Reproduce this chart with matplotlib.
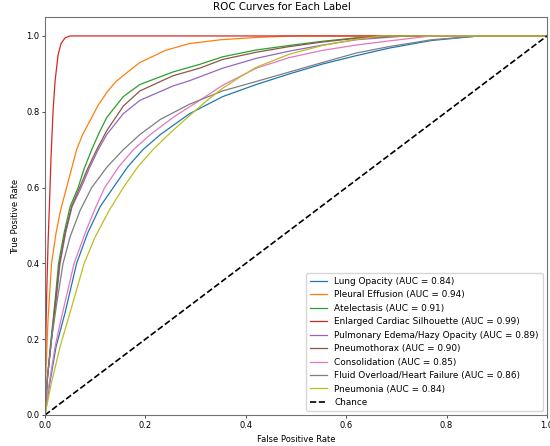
import matplotlib
matplotlib.use("Agg")
import matplotlib.pyplot as plt

# ROC points (FPR, TPR)
labels = ['Lung Opacity', 'Pleural Effusion', 'Atelectasis', 'Enlarged Cardiac Silhouette',
          'Pulmonary Edema/Hazy Opacity', 'Pneumothorax', 'Consolidation',
          'Fluid Overload/Heart Failure', 'Pneumonia']
aucs = [0.84, 0.94, 0.91, 0.99, 0.89, 0.90, 0.85, 0.86, 0.84]

fpr_lung = [0, 0.009, 0.022, 0.04, 0.063, 0.085, 0.11, 0.136, 0.165, 0.195, 0.23, 0.288,
            0.354, 0.421, 0.487, 0.553, 0.62, 0.686, 0.77, 0.865, 1.0]
tpr_lung = [0, 0.08, 0.18, 0.27, 0.4, 0.48, 0.55, 0.6, 0.655, 0.7, 0.74, 0.795,
            0.84, 0.872, 0.9, 0.926, 0.948, 0.968, 0.988, 1.0, 1.0]

fpr_pleural = [0, 0.002, 0.006, 0.013, 0.022, 0.031, 0.043, 0.063, 0.075, 0.089, 0.105, 0.123,
               0.14, 0.16, 0.189, 0.24, 0.288, 0.35, 0.42, 0.49, 1.0]
tpr_pleural = [0, 0.12, 0.25, 0.4, 0.48, 0.54, 0.6, 0.7, 0.74, 0.775, 0.815, 0.851,
               0.878, 0.9, 0.93, 0.962, 0.98, 0.99, 0.996, 1.0, 1.0]

fpr_atel = [0, 0.005, 0.012, 0.02, 0.027, 0.038, 0.05, 0.066, 0.078, 0.093, 0.108, 0.123,
            0.156, 0.189, 0.255, 0.308, 0.354, 0.421, 0.487, 0.553, 0.62, 0.7, 1.0]
tpr_atel = [0, 0.1, 0.2, 0.3, 0.4, 0.48, 0.55, 0.6, 0.65, 0.7, 0.745, 0.785,
            0.84, 0.872, 0.905, 0.925, 0.945, 0.963, 0.975, 0.986, 0.995, 1.0, 1.0]

fpr_cardiac = [0, 0.001, 0.003, 0.006, 0.009, 0.012, 0.016, 0.02, 0.026, 0.032, 0.04, 0.05, 0.06, 1.0]
tpr_cardiac = [0, 0.15, 0.3, 0.45, 0.56, 0.68, 0.8, 0.88, 0.95, 0.98, 0.995, 1.0, 1.0, 1.0]

fpr_edema = [0, 0.005, 0.013, 0.022, 0.03, 0.041, 0.054, 0.072, 0.088, 0.106, 0.123, 0.156,
             0.189, 0.255, 0.288, 0.354, 0.421, 0.487, 0.553, 0.62, 0.72, 1.0]
tpr_edema = [0, 0.1, 0.2, 0.3, 0.4, 0.48, 0.55, 0.6, 0.65, 0.7, 0.74, 0.795,
             0.83, 0.868, 0.882, 0.915, 0.941, 0.96, 0.976, 0.99, 1.0, 1.0]

fpr_ptx = [0, 0.005, 0.013, 0.021, 0.029, 0.04, 0.053, 0.069, 0.085, 0.103, 0.123, 0.156,
           0.189, 0.255, 0.308, 0.354, 0.421, 0.487, 0.553, 0.62, 0.7, 1.0]
tpr_ptx = [0, 0.1, 0.2, 0.3, 0.4, 0.48, 0.55, 0.6, 0.65, 0.7, 0.75, 0.815,
           0.855, 0.895, 0.915, 0.938, 0.957, 0.972, 0.984, 0.994, 1.0, 1.0]

fpr_consol = [0, 0.008, 0.02, 0.035, 0.058, 0.08, 0.1, 0.119, 0.147, 0.176, 0.21, 0.255,
              0.308, 0.354, 0.421, 0.487, 0.553, 0.62, 0.686, 0.77, 1.0]
tpr_consol = [0, 0.08, 0.18, 0.27, 0.4, 0.48, 0.545, 0.6, 0.655, 0.7, 0.74, 0.785,
              0.83, 0.87, 0.915, 0.943, 0.962, 0.976, 0.987, 1.0, 1.0]

fpr_fluid = [0, 0.005, 0.013, 0.024, 0.036, 0.05, 0.07, 0.093, 0.124, 0.156, 0.189, 0.23,
             0.288, 0.354, 0.421, 0.487, 0.553, 0.62, 0.686, 0.77, 0.865, 1.0]
tpr_fluid = [0, 0.1, 0.2, 0.3, 0.4, 0.47, 0.54, 0.6, 0.655, 0.7, 0.74, 0.78,
             0.82, 0.855, 0.88, 0.905, 0.93, 0.955, 0.972, 0.99, 1.0, 1.0]

fpr_pneu = [0, 0.012, 0.03, 0.052, 0.078, 0.1, 0.128, 0.156, 0.185, 0.215, 0.25, 0.288,
            0.321, 0.354, 0.39, 0.42, 0.487, 0.553, 0.62, 0.67, 1.0]
tpr_pneu = [0, 0.08, 0.18, 0.28, 0.4, 0.47, 0.54, 0.6, 0.655, 0.7, 0.745, 0.79,
            0.828, 0.862, 0.893, 0.917, 0.952, 0.975, 0.991, 1.0, 1.0]

fprs = [fpr_lung, fpr_pleural, fpr_atel, fpr_cardiac, fpr_edema, fpr_ptx, fpr_consol, fpr_fluid, fpr_pneu]
tprs = [tpr_lung, tpr_pleural, tpr_atel, tpr_cardiac, tpr_edema, tpr_ptx, tpr_consol, tpr_fluid, tpr_pneu]

fig = plt.figure(figsize=(5.5, 4.46), dpi=100)
ax = fig.add_axes([45 / 550, 1 - 415 / 446, 502 / 550, 398 / 446])

for name, auc, fpr, tpr in zip(labels, aucs, fprs, tprs):
    ax.plot(fpr, tpr, lw=0.9, label=f'{name} (AUC = {auc:.2f})')
ax.plot([0, 1], [0, 1], 'k--', lw=1.2, label='Chance')

ax.set_xlim(0.0, 1.0)
ax.set_ylim(0.0, 1.05)
ax.set_xlabel('False Positive Rate', fontsize=6)
ax.set_ylabel('True Positive Rate', fontsize=6)
ax.tick_params(labelsize=6, length=2.1, width=0.5, pad=2)
for s in ax.spines.values():
    s.set_linewidth(0.8)
    s.set_color('0.45')
fig.text(282 / 550, 1 - 2 / 446, 'ROC Curves for Each Label', ha='center', va='top', fontsize=7.4)
ax.legend(loc='lower right', fontsize=6.4)

fig.savefig('out.png', dpi=100)
